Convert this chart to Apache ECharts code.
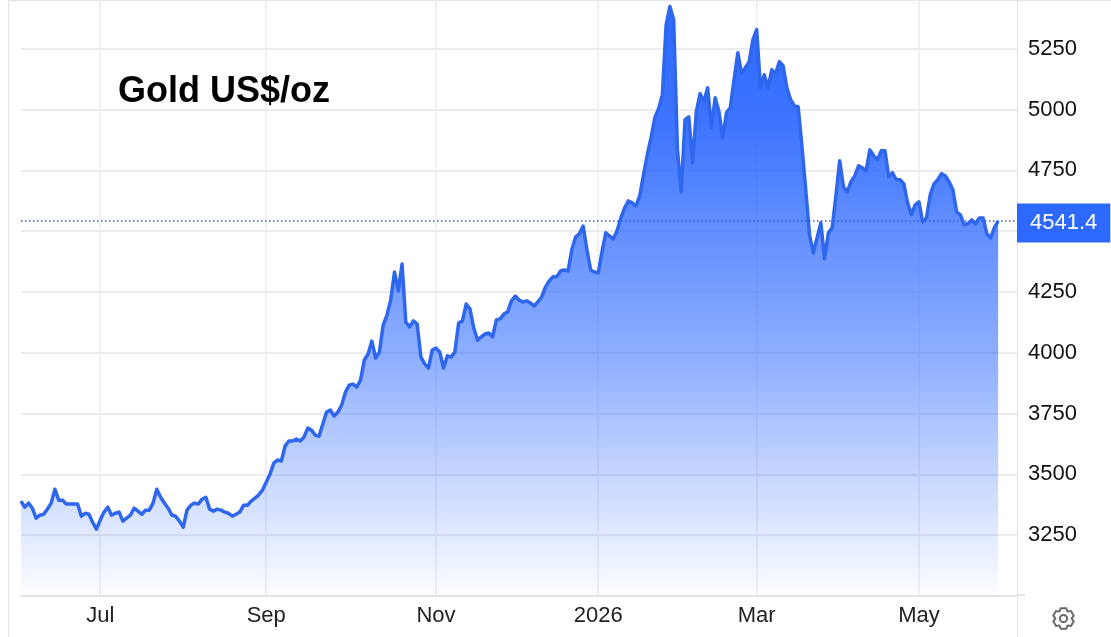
<!DOCTYPE html>
<html><head><meta charset="utf-8">
<style>html,body{margin:0;padding:0;background:#fff}#c{width:1111px;height:637px}</style>
<script src="https://cdn.jsdelivr.net/npm/echarts@6/dist/echarts.min.js"></script>
</head><body><div id="c"></div>
<script>
const titleText = "Gold US$/oz";
const monthTicks = {21:"Jul",65:"Sep",110:"Nov",153:"2026",195:"Mar",238:"May"};
const padSlots = 5;
const yTicksHidden = [3000,5450];
const prices = [
3390,3365,3382,3361,3320,3332,3336,3357,3382,3439,3394,3394,3378,3378,3378,3378,3328,3340,3336,3303,
3275,3312,3345,3365,3332,3340,3345,3308,3320,3332,3361,3349,3336,3353,3353,3382,3439,3406,3382,3361,
3332,3328,3308,3283,3353,3373,3382,3378,3398,3406,3357,3349,3357,3353,3345,3340,3328,3336,3345,3373,
3373,3390,3402,3415,3435,3468,3501,3546,3559,3555,3616,3637,3637,3645,3637,3653,3690,3682,3661,3657,
3707,3756,3764,3740,3756,3785,3838,3867,3871,3859,3888,3970,3995,4048,3978,4003,4114,4155,4217,4332,
4254,4365,4126,4106,4131,4118,3982,3954,3937,4011,4019,4003,3937,3987,3982,4003,4122,4131,4200,4180,
4102,4052,4065,4077,4081,4065,4135,4139,4159,4168,4213,4233,4217,4209,4213,4205,4192,4209,4229,4270,
4295,4312,4312,4336,4340,4336,4423,4476,4489,4521,4423,4340,4332,4328,4415,4493,4480,4468,4501,4554,
4596,4624,4616,4604,4645,4731,4814,4884,4966,5003,5061,5349,5423,5369,4834,4661,4958,4970,4781,4991,
5065,5032,5089,4925,5048,4991,4884,4987,5007,5122,5233,5147,5172,5196,5287,5328,5089,5143,5089,5163,
5147,5196,5180,5089,5040,5015,5011,4847,4670,4485,4410,4472,4534,4386,4493,4513,4645,4789,4682,4661,
4703,4727,4768,4760,4748,4834,4810,4793,4830,4830,4723,4740,4711,4711,4694,4616,4567,4608,4620,4538,
4554,4649,4694,4711,4736,4727,4703,4670,4579,4567,4526,4530,4546,4530,4554,4554,4489,4472,4513,4541.4];
const lastPrice = prices[prices.length-1];
const categories = [];
for (let i=0;i<prices.length+padSlots;i++) categories.push(monthTicks[i]||"");
const isTick = (idx)=>!!monthTicks[idx];
const FONT = "'Liberation Sans', Arial, sans-serif";
const gearOutline = [];
for (let t=0;t<6;t++){
  const a=(t*60-90)*Math.PI/180, w=0.26, v=0.5;
  gearOutline.push([Math.cos(a-v)*8.2,Math.sin(a-v)*8.2],[Math.cos(a-w)*10.6,Math.sin(a-w)*10.6],
                   [Math.cos(a+w)*10.6,Math.sin(a+w)*10.6],[Math.cos(a+v)*8.2,Math.sin(a+v)*8.2]);
}
const chart = echarts.init(document.getElementById('c'),null,{renderer:'canvas'});
const chrome = {stroke:'#e4e4e4',lineWidth:1};
chart.setOption({
  animation:false,
  backgroundColor:'#ffffff',
  title:{text:titleText,left:113,top:69,textStyle:{fontFamily:FONT,fontSize:36,fontWeight:'bold',color:'#000'}},
  grid:{left:21,right:94,top:0,bottom:41,containLabel:false},
  xAxis:{type:'category',data:categories,boundaryGap:false,
    axisLine:{show:true,lineStyle:{color:'#e4e4e4',width:2}},
    axisTick:{show:false},
    axisLabel:{interval:(i)=>isTick(i),color:'#222',fontFamily:FONT,fontSize:22,margin:9},
    splitLine:{show:true,interval:(i)=>isTick(i),lineStyle:{color:'#ecedf2',width:1.5}}},
  yAxis:{type:'value',position:'right',min:3000,max:5450,interval:250,
    axisLine:{show:true,lineStyle:{color:'#e4e4e4',width:1}},
    axisTick:{show:false},
    axisLabel:{color:'#111',fontFamily:FONT,fontSize:22,margin:11,
      formatter:(v)=>yTicksHidden.includes(v)?'':String(v)},
    splitLine:{show:true,lineStyle:{color:'#e6e6e8',width:1.5}}},
  series:[{type:'line',data:prices,symbol:'none',smooth:false,
    lineStyle:{color:'#2f66ee',width:3.5,join:'round'},
    areaStyle:{opacity:1,color:{type:'linear',x:0,y:0,x2:0,y2:1,colorStops:[
      {offset:0,color:'rgba(45,105,255,1)'},
      {offset:0.2,color:'rgba(45,105,255,0.92)'},
      {offset:0.6,color:'rgba(45,105,255,0.53)'},
      {offset:0.85,color:'rgba(45,105,255,0.2)'},
      {offset:1,color:'rgba(45,105,255,0.01)'}]}},
    markLine:{silent:true,symbol:'none',animation:false,
      lineStyle:{color:'#2b5fd0',type:[1.5,2.5],width:1.5},
      data:[{yAxis:lastPrice}],
      label:{show:true,position:'end',distance:0,offset:[0,2],formatter:()=>lastPrice.toFixed(1),
        color:'#fff',fontFamily:FONT,fontSize:22,backgroundColor:'#2e69ff',
        padding:[9,13,8,13]}}
  }],
  graphic:[
    {type:'line',shape:{x1:8.5,y1:0,x2:8.5,y2:637},style:chrome,z:-1},
    {type:'line',shape:{x1:8,y1:0.5,x2:1111,y2:0.5},style:chrome,z:-1},
    {type:'line',shape:{x1:1017.5,y1:596,x2:1017.5,y2:637},style:chrome,z:-1},
    {type:'line',shape:{x1:1017,y1:595,x2:1025,y2:595},style:{stroke:'#e4e4e4',lineWidth:2},z:-1},
    {type:'polygon',x:1063.5,y:618.5,shape:{points:gearOutline},style:{fill:'none',stroke:'#6a6a6a',lineWidth:2}},
    {type:'circle',x:1063.5,y:618.5,shape:{cx:0,cy:0,r:3.6},style:{fill:'none',stroke:'#6a6a6a',lineWidth:2}}
  ]
});
</script></body></html>
